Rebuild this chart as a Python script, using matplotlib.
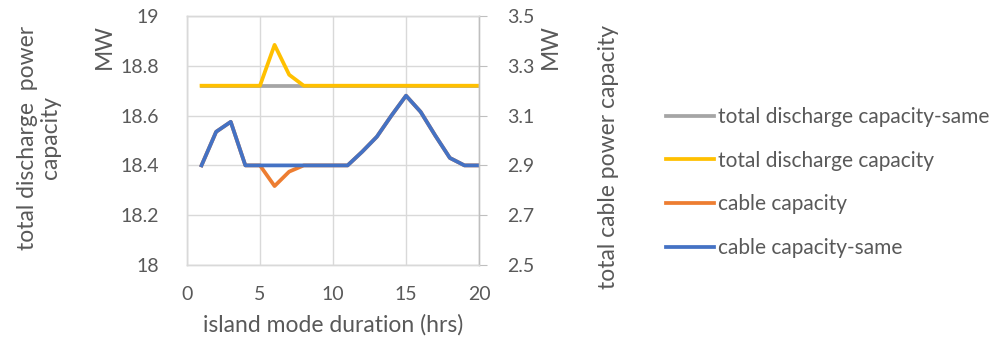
import matplotlib
matplotlib.use("Agg")
import matplotlib.pyplot as plt

plt.rcParams['font.family'] = ['Lato', 'DejaVu Sans']

# island mode duration (hrs)
hours = list(range(1, 21))

# left axis: total discharge power capacity (MW)
discharge_same = [18.72] * 20
discharge = [18.72, 18.72, 18.72, 18.72, 18.72, 18.884, 18.764, 18.72, 18.72, 18.72,
             18.72, 18.72, 18.72, 18.72, 18.72, 18.72, 18.72, 18.72, 18.72, 18.72]

# right axis: total cable power capacity (MW)
cable_same = [2.9, 3.035, 3.075, 2.9, 2.9, 2.9, 2.9, 2.9, 2.9, 2.9,
              2.9, 2.955, 3.015, 3.1, 3.18, 3.115, 3.02, 2.93, 2.9, 2.9]
cable = [2.9, 3.035, 3.075, 2.9, 2.9, 2.817, 2.875, 2.9, 2.9, 2.9,
         2.9, 2.955, 3.015, 3.1, 3.18, 3.115, 3.02, 2.93, 2.9, 2.9]

left_ticks = [18, 18.2, 18.4, 18.6, 18.8, 19]
right_ticks = [2.5, 2.7, 2.9, 3.1, 3.3, 3.5]

txt = '#595959'
grid = '#d9d9d9'
lw = 2.7

fig = plt.figure(figsize=(9.89, 3.47), dpi=100)
ax = fig.add_axes([0.189, 0.2363, 0.2954, 0.7176])
ax2 = ax.twinx()

l1, = ax.plot(hours, discharge_same, color='#A5A5A5', lw=lw, solid_joinstyle='round')
l2, = ax.plot(hours, discharge, color='#FFC000', lw=lw, solid_joinstyle='round')
l3, = ax2.plot(hours, cable, color='#ED7D31', lw=lw, solid_joinstyle='round')
l4, = ax2.plot(hours, cable_same, color='#4472C4', lw=lw, solid_joinstyle='round')

ax.set_xlim(0, 20)
ax.set_xticks([0, 5, 10, 15, 20])
ax.set_ylim(18, 19)
ax.set_yticks(left_ticks)
ax.set_yticklabels(['18', '18.2', '18.4', '18.6', '18.8', '19'])
ax2.set_ylim(2.5, 3.5)
ax2.set_yticks(right_ticks)
ax2.set_yticklabels(['2.5', '2.7', '2.9', '3.1', '3.3', '3.5'])

ax.grid(True, color=grid, lw=1)
ax.set_axisbelow(True)
for a in (ax, ax2):
    for s in a.spines.values():
        s.set_color(grid)
        s.set_linewidth(1)
ax2.spines['right'].set_color('#bfbfbf')

ax.tick_params(axis='both', colors=grid, labelcolor=txt, labelsize=14, length=0, pad=20)
ax.tick_params(axis='x', pad=15)
ax2.tick_params(axis='y', colors='#bfbfbf', labelcolor=txt, labelsize=14, length=6, pad=14)

ax.set_xlabel('island mode duration (hrs)', color=txt, fontsize=16.5, labelpad=8)

fig.text(0.0395, 0.603, 'total discharge  power\ncapacity', rotation=90, color=txt,
         fontsize=16.5, ha='center', va='center', linespacing=1.1, multialignment='center')
fig.text(0.106, 0.865, 'MW', rotation=90, color=txt, fontsize=16.5, ha='center', va='center')
fig.text(0.557, 0.865, 'MW', rotation=90, color=txt, fontsize=16.5, ha='center', va='center')
fig.text(0.615, 0.548, 'total cable power capacity', rotation=90, color=txt,
         fontsize=16.5, ha='center', va='center')

fig.legend([l1, l2, l3, l4],
           ['total discharge capacity-same', 'total discharge capacity',
            'cable capacity', 'cable capacity-same'],
           loc='center left', bbox_to_anchor=(0.673, 0.474), frameon=False,
           fontsize=15, labelcolor=txt, handlelength=2.3, handletextpad=0.2,
           labelspacing=1.14, borderpad=0, borderaxespad=0)

fig.savefig('out.png', dpi=100)
